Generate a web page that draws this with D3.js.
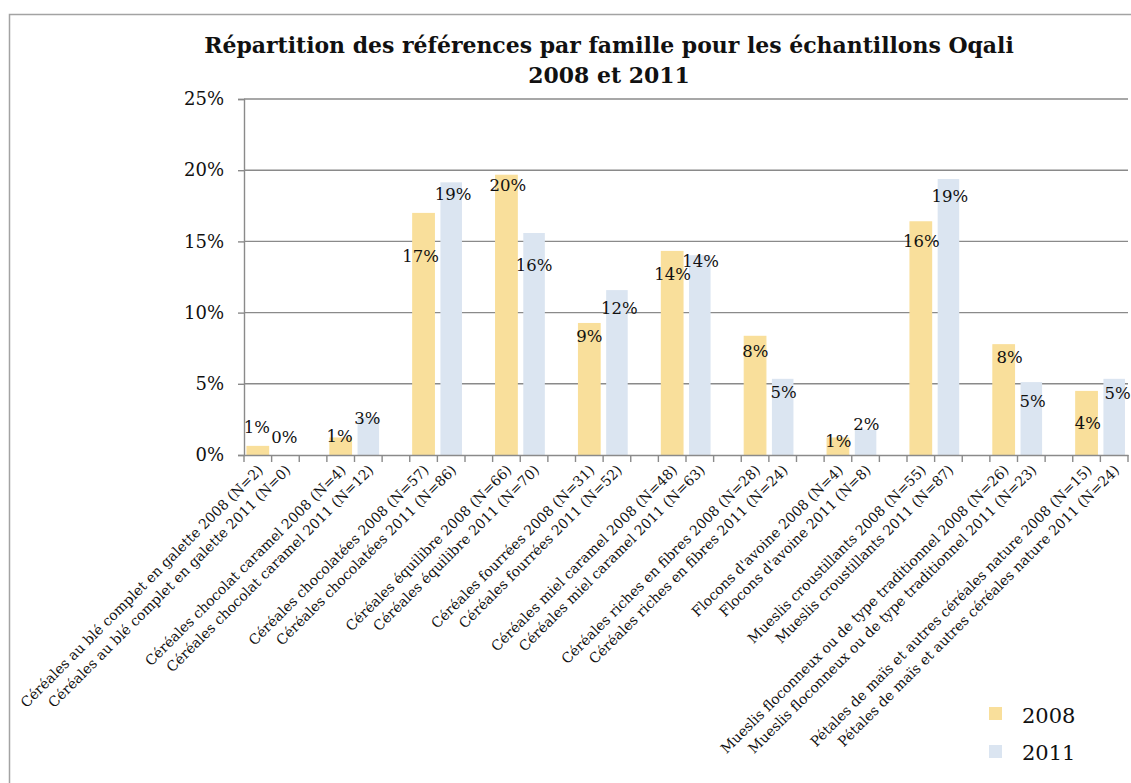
<!DOCTYPE html>
<html>
<head>
<meta charset="utf-8">
<script src="https://cdn.jsdelivr.net/npm/d3@7"></script>
<style>
  html, body { margin: 0; padding: 0; background: #fff; }
  svg { display: block; }
</style>
</head>
<body>
<script>
// ---- data ----
const families = [
  "Céréales au blé complet en galette",
  "Céréales chocolat caramel",
  "Céréales chocolatées",
  "Céréales équilibre",
  "Céréales fourrées",
  "Céréales miel caramel",
  "Céréales riches en fibres",
  "Flocons d'avoine",
  "Mueslis croustillants",
  "Mueslis floconneux ou de type traditionnel",
  "Pétales de maïs et autres céréales nature"
];
const years = ["2008", "2011"];
const n2008 = [2, 4, 57, 66, 31, 48, 28, 4, 55, 26, 15];
const n2011 = [0, 12, 86, 70, 52, 63, 24, 8, 87, 23, 24];
const pct2008 = [0.60, 1.19, 16.96, 19.64, 9.23, 14.29, 8.33, 1.19, 16.37, 7.74, 4.46];
const pct2011 = [0.00, 2.67, 19.15, 15.59, 11.58, 14.03, 5.35, 1.78, 19.38, 5.12, 5.35];
const yTicks = [0, 5, 10, 15, 20, 25];
const titleLines = ["Répartition des références par famille pour les échantillons Oqali", "2008 et 2011"];

// ---- layout / style (not data) ----
const W = 1131, H = 783;
const plot = { left: 244, right: 1128, top: 99, bottom: 455 };
const colors = { "2008": "#F9DF9B", "2011": "#DBE5F1" };
const serif = "'DejaVu Serif', 'Liberation Serif', serif";
// per-label nudges of the data labels (px), as placed in the original
const labelDx2008 = [-1, -1, -3, 1.5, 0, 0.5, 0.3, 0.4, 0.6, 5.8, 1.4];
const labelDy2008 = [-19, -2, 43, 10, 13, 23, 15, 3, 19, 12, 32];
const labelDx2011 = [-1, -1, 2, 0, 2.4, 0.8, 0.8, 0.9, 1.3, 1.4, 3.5];
const labelDy2011 = [-18, 1, 12, 32, 18, 6, 13, -5, 17, 19, 14];

// ---- build category list (bar per year, empty slot between families) ----
const rows = [];
families.forEach((f, i) => {
  rows.push({ key: i + "-2008", year: "2008", label: `${f} 2008 (N=${n2008[i]})`, value: pct2008[i], dx: labelDx2008[i], dy: labelDy2008[i] });
  rows.push({ key: i + "-2011", year: "2011", label: `${f} 2011 (N=${n2011[i]})`, value: pct2011[i], dx: labelDx2011[i], dy: labelDy2011[i] });
  if (i < families.length - 1) rows.push({ key: i + "-gap", year: null, label: "", value: null });
});

const svg = d3.select("body").append("svg").attr("width", W).attr("height", H);
svg.append("rect").attr("width", W).attr("height", H).attr("fill", "#fff");

// chart border
svg.append("rect").attr("x", 9.5).attr("y", 14.5).attr("width", 1400).attr("height", 1000)
  .attr("fill", "none").attr("stroke", "#a3a3a3").attr("stroke-width", 1.5);

const x = d3.scaleBand().domain(rows.map(r => r.key)).range([plot.left, plot.right]).padding(0);
const y = d3.scaleLinear().domain([0, 25]).range([plot.bottom, plot.top]);

// gridlines
svg.append("g").selectAll("line").data(yTicks.filter(t => t > 0)).join("line")
  .attr("x1", plot.left).attr("x2", plot.right)
  .attr("y1", d => y(d)).attr("y2", d => y(d))
  .attr("stroke", "#8a8a8a").attr("stroke-width", 1.4);

// y axis
const yAxis = svg.append("g").attr("transform", `translate(${plot.left},0)`)
  .call(d3.axisLeft(y).tickValues(yTicks).tickSize(6).tickPadding(14).tickFormat(d => d + "%"));
yAxis.select(".domain").attr("stroke", "#8a8a8a").attr("stroke-width", 1.4);
yAxis.selectAll(".tick line").attr("stroke", "#8a8a8a").attr("stroke-width", 1.4);
yAxis.selectAll(".tick text").attr("font-family", serif).attr("font-size", 18).attr("fill", "#111");

// bars
const bw = x.bandwidth() * 0.78;
svg.append("g").selectAll("rect").data(rows.filter(r => r.year)).join("rect")
  .attr("x", r => x(r.key) + (x.bandwidth() - bw) / 2)
  .attr("width", bw)
  .attr("y", r => y(r.value))
  .attr("height", r => y(0) - y(r.value))
  .attr("fill", r => colors[r.year])
  .attr("stroke", r => r.year === "2008" ? colors["2008"] : "none")
  .attr("stroke-width", 1.2);

// x axis line + ticks at category boundaries
const xAxis = svg.append("g").attr("transform", `translate(0,${plot.bottom})`)
  .call(d3.axisBottom(x).tickSize(0).tickFormat(""));
xAxis.select(".domain").attr("stroke", "#8a8a8a").attr("stroke-width", 1.4);
const bounds = rows.map(r => x(r.key)).concat([plot.right]);
xAxis.append("g").selectAll("line").data(bounds).join("line")
  .attr("x1", d => d).attr("x2", d => d).attr("y1", 0).attr("y2", 7)
  .attr("stroke", "#8a8a8a").attr("stroke-width", 1.4);

// category labels (rotated)
xAxis.append("g").selectAll("text").data(rows.filter(r => r.year)).join("text")
  .attr("transform", r => `translate(${x(r.key) + x.bandwidth() / 2 + 6},${16}) rotate(-45)`)
  .attr("text-anchor", "end")
  .attr("font-family", serif).attr("font-size", 14).attr("fill", "#111")
  .text(r => r.label);

// data labels
svg.append("g").selectAll("text").data(rows.filter(r => r.year)).join("text")
  .attr("x", r => x(r.key) + x.bandwidth() / 2 + r.dx)
  .attr("y", r => y(r.value) + r.dy)
  .attr("dy", "0.35em")
  .attr("text-anchor", "middle")
  .attr("font-family", serif).attr("font-size", 16.5).attr("fill", "#111")
  .text(r => Math.round(r.value) + "%");

// title (font size fitted so the first line spans the same width as the original)
const title = svg.append("g").selectAll("text").data(titleLines).join("text")
  .attr("x", 609).attr("y", (d, i) => 53 + i * 30)
  .attr("text-anchor", "middle")
  .attr("font-family", serif).attr("font-weight", "bold").attr("font-size", 22).attr("fill", "#111")
  .text(d => d);
const firstLen = title.nodes()[0].getComputedTextLength();
if (firstLen > 0) title.attr("font-size", 22 * 810 / firstLen);

// legend
const legend = svg.append("g").selectAll("g").data(years).join("g")
  .attr("transform", (d, i) => `translate(989,${707 + i * 38})`);
legend.append("rect").attr("width", 13).attr("height", 13).attr("fill", d => colors[d]);
legend.append("text").attr("x", 33).attr("y", (d, i) => 16 + i * -1)
  .attr("font-family", serif).attr("font-size", 21).attr("fill", "#111")
  .text(d => d);
</script>
</body>
</html>
